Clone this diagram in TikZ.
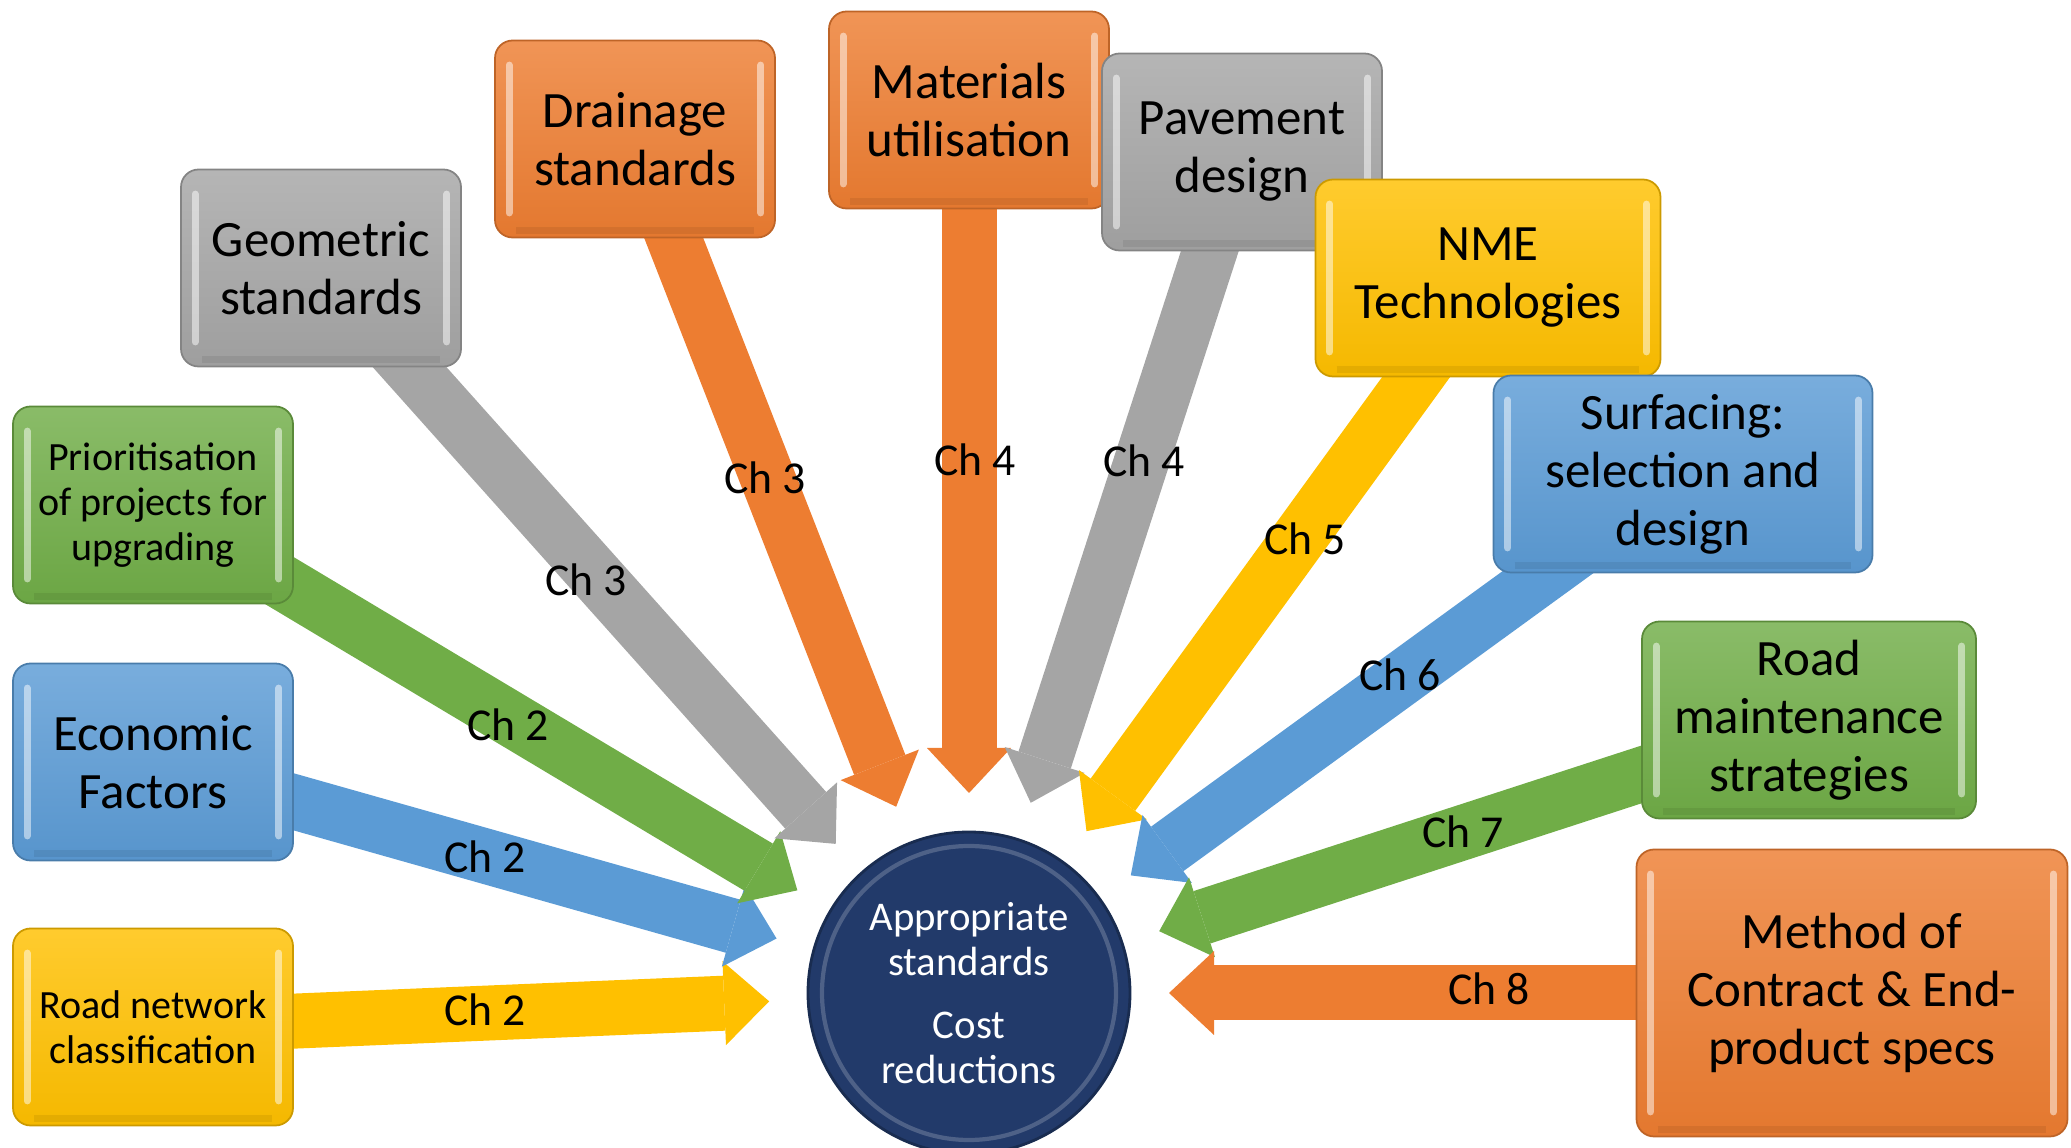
\documentclass[tikz,border=0pt]{standalone}
\usepackage{fontspec}
\setmainfont{Carlito}
\usepackage{tikz}
\usetikzlibrary{arrows.meta,calc,backgrounds}

\definecolor{org}{HTML}{ED7D31}
\definecolor{gry}{HTML}{A5A5A5}
\definecolor{ylw}{HTML}{FFC000}
\definecolor{blu}{HTML}{5B9BD5}
\definecolor{grn}{HTML}{70AD47}
\definecolor{navy}{HTML}{223A6A}

\begin{document}
\begin{tikzpicture}[
    big/.style={font=\fontsize{14.5}{16.5}\selectfont},
    small/.style={font=\fontsize{11.4}{12.8}\selectfont},
    box/.style={draw=#1!80!black, line width=0.5pt, rounded corners=5pt,
      top color=#1!82!white, bottom color=#1!96!black, align=center, inner sep=2pt,
      minimum width=2.8cm, minimum height=1.97cm,
      % bevel highlights on the side edges
      path picture={
        \draw[white, opacity=.5, line width=2pt, line cap=round]
          ([shift={(4pt,-7pt)}]path picture bounding box.north west) --
          ([shift={(4pt,7pt)}]path picture bounding box.south west)
          ([shift={(-4pt,-7pt)}]path picture bounding box.north east) --
          ([shift={(-4pt,7pt)}]path picture bounding box.south east);
        \draw[#1!70!black, opacity=.25, line width=2pt]
          ([shift={(6pt,2pt)}]path picture bounding box.south west) --
          ([shift={(-6pt,2pt)}]path picture bounding box.south east);}},
    hub/.style={circle, fill=navy, draw=navy!75!black, line width=0.8pt,
      minimum size=3.22cm, inner sep=0pt, text=white, align=center,
      font=\fontsize{11.6}{12.8}\selectfont,
      path picture={\draw[white, opacity=.2, line width=1.2pt]
        (path picture bounding box.center) circle (1.47cm);}},
    chap/.style={draw=#1, line width=5.5mm,
      -{Triangle[length=4.5mm, width=8.4mm, line width=0pt]}},
    lbl/.style={font=\fontsize{13}{15}\selectfont},
  ]
    \useasboundingbox (0,0) rectangle (20.71,11.48);

    \node[hub] (hub) at (9.69,1.55) {Appropriate\\standards\\[5pt]Cost\\reductions};

    % left column
    \node[box=ylw, small] (roadnet) at (1.53,1.21) {Road network\\classification};
    \node[box=blu, big]   (econ)    at (1.53,3.86) {Economic\\Factors};
    \node[box=grn, small] (prio)    at (1.53,6.43) {Prioritisation\\of projects for\\upgrading};

    % top arc
    \node[box=gry, big] (geom)  at (3.21,8.80)  {Geometric\\standards};
    \node[box=org, big] (drain) at (6.35,10.09) {Drainage\\standards};
    \node[box=org, big] (mater) at (9.69,10.38) {Materials\\utilisation};
    \node[box=gry, big] (pave)  at (12.42,9.96) {Pavement\\design};
    \node[box=ylw, big, minimum width=3.45cm] (nme)  at (14.88,8.70) {NME\\Technologies};
    \node[box=blu, big, minimum width=3.79cm] (surf) at (16.83,6.74) {Surfacing:\\selection and\\design};

    % right side
    \node[box=grn, big, minimum width=3.34cm] (maint) at (18.09,4.28) {Road\\maintenance\\strategies};
    \node[box=org, big, minimum width=4.31cm, minimum height=2.87cm] (contract) at (18.52,1.55)
      {Method of\\Contract \& End-\\product specs};

    % chapter arrows, tips 2cm off the hub centre
    \begin{scope}[on background layer]
      \draw[chap=ylw] (roadnet.center)  -- ($(hub.center)!2cm!(roadnet.center)$);
      \draw[chap=blu] (econ.center)     -- ($(hub.center)!2cm!(econ.center)$);
      \draw[chap=grn] (prio.center)     -- ($(hub.center)!2cm!(prio.center)$);
      \draw[chap=gry] (geom.center)     -- ($(hub.center)!2cm!(geom.center)$);
      \draw[chap=org] (drain.center)    -- ($(hub.center)!2cm!(drain.center)$);
      \draw[chap=org] (mater.center)    -- ($(hub.center)!2cm!(mater.center)$);
      \draw[chap=gry] (pave.center)     -- ($(hub.center)!2cm!(pave.center)$);
      \draw[chap=ylw] (nme.center)      -- ($(hub.center)!2cm!(nme.center)$);
      \draw[chap=blu] (surf.center)     -- ($(hub.center)!2cm!(surf.center)$);
      \draw[chap=grn] (maint.center)    -- ($(hub.center)!2cm!(maint.center)$);
      \draw[chap=org] (contract.center) -- ($(hub.center)!2cm!(contract.center)$);
    \end{scope}

    \node[lbl] (ch2a) at (4.85,1.38)  {Ch 2};
    \node[lbl] (ch2b) at (4.85,2.91)  {Ch 2};
    \node[lbl] (ch2c) at (5.08,4.23)  {Ch 2};
    \node[lbl] (ch3a) at (5.86,5.68)  {Ch 3};
    \node[lbl] (ch3b) at (7.65,6.70)  {Ch 3};
    \node[lbl] (ch4a) at (9.75,6.88)  {Ch 4};
    \node[lbl] (ch4b) at (11.44,6.87) {Ch 4};
    \node[lbl] (ch5)  at (13.05,6.09) {Ch 5};
    \node[lbl] (ch6)  at (14.00,4.73) {Ch 6};
    \node[lbl] (ch7)  at (14.63,3.16) {Ch 7};
    \node[lbl] (ch8)  at (14.89,1.59) {Ch 8};
\end{tikzpicture}
\end{document}
